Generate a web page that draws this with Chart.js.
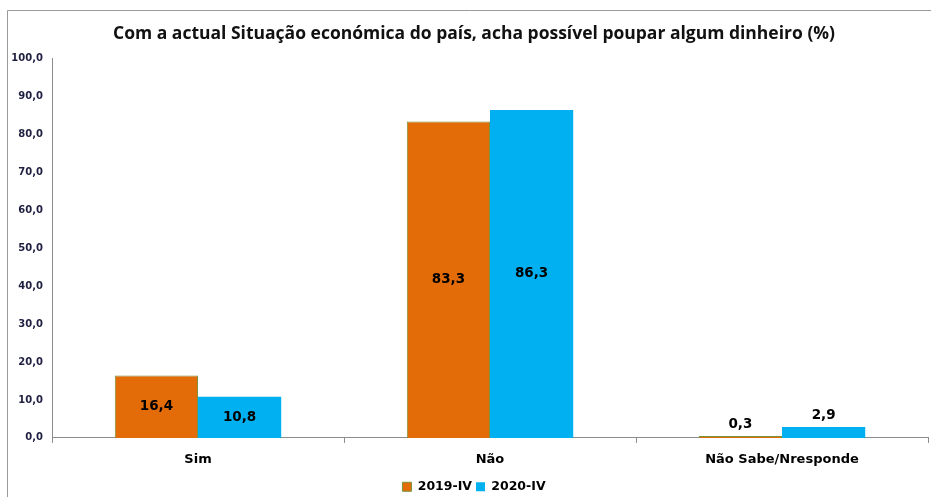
<!DOCTYPE html>
<html lang="pt">
<head>
  <meta charset="UTF-8" />
  <title>Poupar dinheiro</title>
  <script src="https://cdn.jsdelivr.net/npm/chart.js"></script>
  <style>
    html, body { margin: 0; padding: 0; background: #fff; overflow: hidden; }
    canvas { display: block; }
  </style>
</head>
<body>
  <canvas id="chart" width="931" height="497"></canvas>

  <script>
    // data
    const categories = ["Sim", "Não", "Não Sabe/Nresponde"];
    const series2019 = [16.4, 83.3, 0.3];
    const series2020 = [10.8, 86.3, 2.9];
    const seriesNames = ["2019-IV", "2020-IV"];

    const fmt = v => v.toFixed(1).replace(".", ",");

    // outer chart frame (only left and top edges visible)
    const frame = {
      id: "frame",
      afterLayout(chart) {
        // let the y tick labels use the left padding without being clipped
        chart.scales.y.left = 0;
      },
      beforeDraw(chart) {
        const ctx = chart.ctx;
        ctx.save();
        ctx.strokeStyle = "#9a9a9a";
        ctx.lineWidth = 1;
        ctx.beginPath();
        ctx.moveTo(7.5, chart.height);
        ctx.lineTo(7.5, 10.5);
        ctx.lineTo(chart.width, 10.5);
        ctx.stroke();
        ctx.restore();
      }
    };

    // value labels: inside bar if tall enough, otherwise above
    const valueLabels = {
      id: "valueLabels",
      afterDatasetsDraw(chart) {
        const ctx = chart.ctx;
        ctx.save();
        ctx.font = "bold 13.5px 'DejaVu Sans', Verdana, sans-serif";
        ctx.fillStyle = "#000";
        ctx.textAlign = "center";
        ctx.textBaseline = "middle";
        chart.data.datasets.forEach((ds, i) => {
          chart.getDatasetMeta(i).data.forEach((bar, j) => {
            const v = ds.data[j];
            let y = (bar.y + bar.base) / 2;
            if (bar.base - bar.y < 25) y = bar.y - 11;
            ctx.fillText(fmt(v), bar.x, y);
          });
        });
        ctx.restore();
      }
    };

    new Chart(document.getElementById("chart"), {
      type: "bar",
      data: {
        labels: categories,
        datasets: [
          {
            label: seriesNames[0],
            data: series2019,
            backgroundColor: "#E36C09",
            borderColor: "#77933C",
            borderWidth: 1,
            minBarLength: 2,
            categoryPercentage: 0.57,
            barPercentage: 1
          },
          {
            label: seriesNames[1],
            data: series2020,
            backgroundColor: "#00B0F0",
            borderColor: "#00B0F0",
            borderWidth: 0,
            categoryPercentage: 0.57,
            barPercentage: 1
          }
        ]
      },
      options: {
        responsive: false,
        animation: false,
        layout: { padding: { left: 20, right: 3, top: 0, bottom: -6 } },
        scales: {
          y: {
            min: 0,
            max: 100,
            ticks: {
              stepSize: 10,
              color: "#1F1F40",
              font: { family: "'DejaVu Sans', Verdana, sans-serif", size: 10, weight: "bold" },
              callback: v => fmt(v),
              padding: 4
            },
            grid: { display: false, drawTicks: true, tickLength: 5, color: "#8c8c8c" },
            border: { color: "#8c8c8c" },
            afterFit(s) { s.width = 32; }
          },
          x: {
            ticks: {
              color: "#000",
              font: { family: "'DejaVu Sans', Verdana, sans-serif", size: 13, weight: "bold" },
              padding: 9
            },
            grid: { display: true, drawOnChartArea: false, tickLength: 5, color: "#8c8c8c", offset: true },
            border: { color: "#8c8c8c" }
          }
        },
        plugins: {
          title: {
            display: true,
            text: "Com a actual Situação económica do país, acha possível poupar algum dinheiro (%)",
            color: "#111",
            font: { family: "'Open Sans', 'Liberation Sans', sans-serif", size: 17.5, weight: "bold" },
            padding: { top: 24, bottom: 13 }
          },
          legend: {
            position: "bottom",
            labels: {
              boxWidth: 9,
              boxHeight: 9,
              color: "#000",
              font: { family: "'DejaVu Sans', Verdana, sans-serif", size: 12.5, weight: "bold" },
              padding: 4
            }
          },
          tooltip: { enabled: false }
        }
      },
      plugins: [frame, valueLabels]
    });
  </script>
</body>
</html>
